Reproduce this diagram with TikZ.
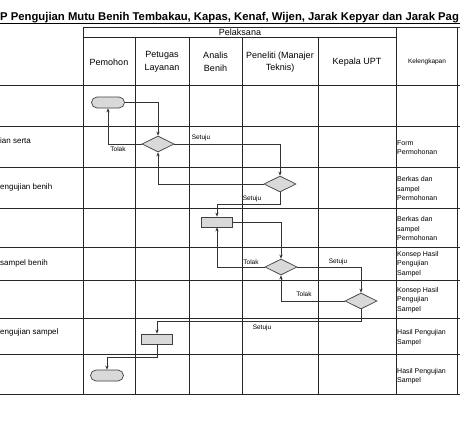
\documentclass[tikz,border=0pt]{standalone}
\usepackage{fontspec}
\setmainfont{Liberation Sans}
\usetikzlibrary{shapes.geometric,arrows.meta}
\begin{document}
\begin{tikzpicture}[x=1pt,y=-1pt,
  grid/.style={draw=black!85, line width=0.8pt},
  conn/.style={draw=black!80, line width=0.6pt},
  arr/.style={conn,-{Stealth[length=4pt,width=3.2pt]}},
  term/.style={draw=black!75, fill=black!15, rounded corners=5.5pt, minimum width=33pt, minimum height=11pt, inner sep=0, line width=0.7pt},
  proc/.style={draw=black!75, fill=black!15, minimum width=31pt, minimum height=10pt, inner sep=0, line width=0.7pt},
  dec/.style={diamond, draw=black!75, fill=black!15, minimum width=32pt, minimum height=16pt, inner sep=0, line width=0.7pt},
  hdr/.style={font=\fontsize{9}{12.5}\selectfont, align=center, inner sep=0},
  act/.style={font=\fontsize{8}{10}\selectfont, anchor=west, inner sep=0},
  kel/.style={font=\fontsize{7}{9.5}\selectfont, align=left, anchor=west, inner sep=0},
  lbl/.style={font=\fontsize{6.5}{7.5}\selectfont, inner sep=0},
]
\fill[white] (0,0) rectangle (460,420);
\useasboundingbox (0,0) rectangle (460,420);

% title
\node[anchor=base west, inner sep=0, font=\fontsize{11.3}{13}\selectfont\bfseries] (title) at (0,21)
  {P Pengujian Mutu Benih Tembakau, Kapas, Kenaf, Wijen, Jarak Kepyar dan Jarak Pag};
\draw[line width=0.7pt] (0,23.3) -- (460,23.3);

% grid
\draw[grid] (83,27) -- (460,27);
\draw[grid] (83,37) -- (396,37);
\foreach \y in {85,126,167,208,247,280,318,354,394}
  \draw[grid] (0,\y) -- (460,\y);
\foreach \x in {83,396,457}
  \draw[grid] (\x,27) -- (\x,394);
\foreach \x in {135,189,242,318}
  \draw[grid] (\x,37) -- (\x,394);

% headers
\node[hdr] (hpel) at (240,32) {Pelaksana};
\node[hdr] (hpem) at (109,62) {Pemohon};
\node[hdr] (hpet) at (162,62) {Petugas\\Layanan};
\node[hdr] (hana) at (215.5,62) {Analis\\Benih};
\node[hdr] (hpen) at (280,62) {Peneliti (Manajer\\Teknis)};
\node[hdr] (hkep) at (357,62) {Kepala UPT};
\node[hdr, font=\fontsize{6.5}{8}\selectfont] (hkel) at (427,62) {Kelengkapan};

% activity fragments
\node[act] (a1) at (0,141) {ian serta};
\node[act] (a2) at (0,187) {engujian benih};
\node[act] (a3) at (0,263) {sampel benih};
\node[act] (a4) at (0,332) {engujian sampel};

% kelengkapan
\node[kel] (k1) at (397,147.5) {Form\\Permohonan};
\node[kel] (k2) at (397,188.5) {Berkas dan\\sampel\\Permohonan};
\node[kel] (k3) at (397,228.5) {Berkas dan\\sampel\\Permohonan};
\node[kel] (k4) at (397,264) {Konsep Hasil\\Pengujian\\Sampel};
\node[kel] (k5) at (397,300) {Konsep Hasil\\Pengujian\\Sampel};
\node[kel] (k6) at (397,337.5) {Hasil Pengujian\\Sampel};
\node[kel] (k7) at (397,376) {Hasil Pengujian\\Sampel};

% flow shapes
\node[term] (start) at (108,102.5) {};
\node[dec] (d1) at (158,144) {};
\node[dec] (d2) at (280,184) {};
\node[proc] (b3) at (217,222) {};
\node[dec] (d3) at (281,267) {};
\node[dec] (d4) at (361,301) {};
\node[proc] (b5) at (157,339) {};
\node[term] (stop) at (107,375.5) {};

\coordinate (y1) at (0,204);
\coordinate (y2) at (0,321);
\coordinate (y3) at (0,357);

% connectors
\draw[arr] (start.east) -| (d1.north);
\draw[arr] (d1.west) -| (start.south);
\draw[arr] (d1.east) -| (d2.north);
\draw[arr] (d2.west) -| (d1.south);
\draw[arr] (d2.south) -- (d2.south |- y1) -| (b3.north);
\draw[arr] (b3.east) -| (d3.north);
\draw[arr] (d3.west) -| (b3.south);
\draw[arr] (d3.east) -| (d4.north);
\draw[arr] (d4.west) -| (d3.south);
\draw[arr] (d4.south) -- (d4.south |- y2) -| (b5.north);
\draw[arr] (b5.south) -- (b5.south |- y3) -| (stop.north);

% labels
\node[lbl] (l1) at (118,149.5) {Tolak};
\node[lbl] (l2) at (201,138) {Setuju};
\node[lbl] (l3) at (252,199) {Setuju};
\node[lbl] (l4) at (251,262.5) {Tolak};
\node[lbl] (l5) at (338,262) {Setuju};
\node[lbl] (l6) at (304,294) {Tolak};
\node[lbl] (l7) at (262,328) {Setuju};
\end{tikzpicture}
\end{document}
